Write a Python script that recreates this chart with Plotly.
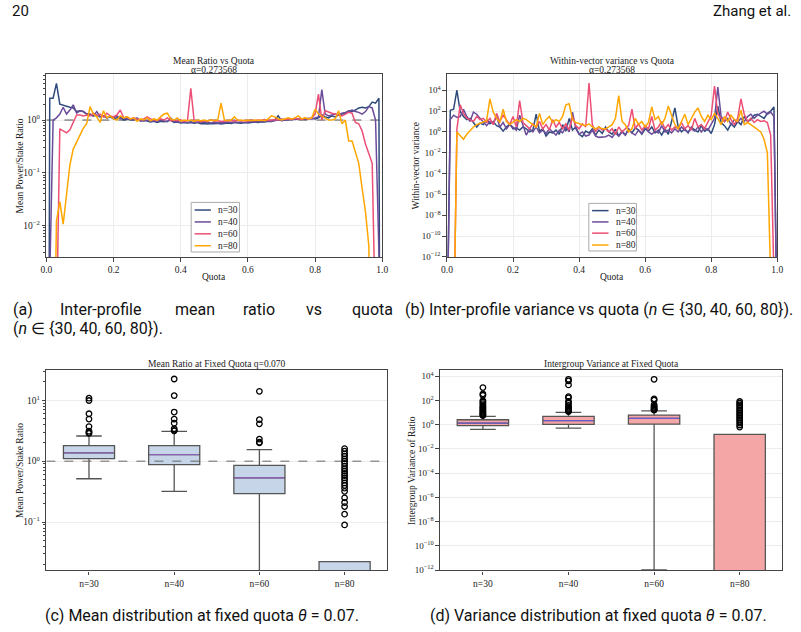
import plotly.graph_objects as go

W, H = 801, 632
SERIF = "Liberation Serif, Times New Roman, serif"
CAP = "Roboto, Liberation Sans, sans-serif"
ZERO = 1e-20  # effectively zero (log axis)

quota = [round(0.01 * i, 2) for i in range(101)]
labels = ["n=30", "n=40", "n=60", "n=80"]
colors = ["#2f4b7c", "#6b4c9a", "#ec4f75", "#ffa600"]

# ---------------- (a) mean ratio vs quota ----------------
mean_n30 = [ZERO, 2.6, 2.6, 5.0, 2.0, 1.9, 1.8, 1.75, 1.7, 1.45,
            1.5, 1.45, 1.3, 1.3, 1.2, 1.25, 1.15, 1.2, 1.1, 1.15,
            1.05, 1.1, 1.15, 1.0, 1.05, 1.0, 1.0, 1.1, 0.95, 1.0,
            0.95, 0.92, 0.95, 0.9, 0.95, 0.93, 0.95, 1.0, 0.9, 0.92,
            0.88, 0.9, 0.88, 0.9, 0.87, 0.9, 0.85, 0.86, 0.84, 0.86,
            0.85, 0.87, 0.84, 0.86, 0.88, 0.86, 0.9, 0.88, 0.87, 0.9,
            0.88, 0.9, 0.92, 0.9, 0.93, 0.92, 0.95, 0.94, 1.0, 1.2,
            0.97, 1.0, 1.02, 1.0, 1.05, 1.03, 1.05, 1.02, 1.05, 1.08,
            1.05, 1.1, 1.25, 1.15, 1.1, 1.2, 1.15, 1.25, 1.3, 1.35,
            1.5, 1.45, 1.55, 1.7, 1.75, 1.7, 1.8, 2.2, 2.1, 2.6, ZERO]
mean_n40 = [ZERO, 0.001, 1.0, 1.1, 1.3, 1.75, 1.3, 1.55, 1.95, 1.35,
            1.5, 1.45, 1.3, 1.25, 1.2, 1.45, 1.15, 1.2, 1.1, 1.2,
            1.1, 1.2, 1.05, 1.1, 1.05, 1.05, 1.0, 1.05, 1.0, 0.95,
            1.0, 0.95, 0.97, 0.95, 1.0, 0.95, 0.93, 1.1, 0.92, 0.95,
            0.9, 0.92, 0.9, 0.93, 0.9, 0.92, 0.9, 0.92, 0.9, 0.88,
            0.9, 0.88, 0.9, 0.89, 0.92, 0.9, 0.92, 0.91, 0.93, 0.9,
            0.92, 0.94, 0.92, 0.95, 0.93, 0.95, 0.97, 0.95, 0.98, 1.0,
            0.98, 1.0, 1.02, 1.05, 1.02, 1.05, 1.03, 1.05, 1.08, 1.05,
            1.1, 1.15, 3.8, 1.3, 1.2, 1.25, 1.3, 1.25, 1.35, 1.4,
            1.5, 1.55, 1.45, 1.4, 1.3, 1.45, 1.8, 1.7, 1.0, 0.003, ZERO]
mean_n60 = [ZERO, ZERO, ZERO, 0.0001, 0.68, 0.62, 0.57, 0.65, 0.9, 1.25,
            1.25, 1.2, 1.25, 1.2, 1.35, 1.2, 1.3, 1.15, 1.35, 1.2,
            1.15, 1.25, 1.55, 1.1, 1.15, 1.05, 1.1, 1.05, 1.0, 1.05,
            1.15, 1.05, 1.0, 0.98, 1.05, 1.0, 1.1, 0.97, 1.0, 0.97,
            1.0, 0.95, 0.98, 4.0, 0.95, 0.98, 0.93, 0.97, 0.95, 1.0,
            0.95, 0.97, 0.94, 0.96, 0.95, 0.98, 0.95, 1.0, 0.96, 0.98,
            0.95, 1.0, 0.97, 1.0, 0.98, 1.02, 0.98, 1.0, 1.02, 1.0,
            1.05, 1.02, 1.05, 1.03, 1.08, 1.05, 1.03, 1.08, 1.05, 1.1,
            1.3, 3.1, 1.0, 1.5, 1.4, 1.35, 1.3, 1.25, 1.2, 1.3,
            1.4, 1.35, 0.9, 0.85, 0.62, 0.35, 0.22, 0.15, 0.0001, ZERO, ZERO]
mean_n80 = [ZERO, ZERO, 1e-6, 0.012, 0.028, 0.0105, 0.045, 0.14, 0.28, 0.38,
            0.52, 0.7, 0.85, 1.8, 1.3, 1.15, 0.9, 1.5, 1.1, 1.2,
            1.05, 1.0, 1.2, 1.1, 1.15, 1.05, 1.1, 0.95, 1.05, 1.0,
            1.1, 0.97, 1.05, 1.0, 1.15, 1.3, 1.35, 1.05, 1.0, 1.1,
            0.95, 1.0, 0.97, 1.0, 0.95, 1.0, 0.97, 1.0, 0.96, 1.0,
            0.98, 1.0, 2.1, 1.0, 0.98, 1.0, 1.15, 0.98, 1.0, 0.97,
            1.0, 0.97, 1.0, 0.98, 1.0, 0.97, 1.05, 1.2, 1.15, 1.05,
            1.0, 1.05, 1.1, 1.05, 1.1, 1.2, 1.05, 1.1, 1.05, 1.1,
            1.6, 1.3, 1.2, 1.1, 1.0, 1.0, 1.05, 1.5, 0.85, 1.0,
            0.4, 0.4, 0.25, 0.15, 0.05, 0.018, 0.004, 1e-6, ZERO, ZERO, ZERO]

# ---------------- (b) within-vector variance vs quota ----------------
var_n30 = [ZERO, 120, 150, 10000, 90, 30, 15, 20, 8, 3,
           7, 5, 15, 6, 10, 4, 3, 1.2, 3, 6,
           2, 2.5, 1.5, 3, 2, 1, 1.5, 50, 1.2, 2,
           0.4, 1, 0.8, 1.5, 0.6, 5, 1.2, 20, 1.5, 3,
           0.6, 0.35, 1.2, 0.8, 2, 0.5, 1.5, 0.7, 3, 1,
           0.6, 1.8, 0.4, 1.2, 0.5, 2, 0.8, 2.5, 1.5, 0.6,
           2, 1.2, 3, 0.8, 1.5, 0.5, 2, 0.6, 10, 200,
           3, 1, 2, 0.8, 3, 1.5, 1, 4, 1.2, 2,
           0.7, 5, 300, 8, 4, 1.5, 6, 3, 10, 5,
           30, 10, 15, 40, 50, 30, 20, 60, 100, 250, ZERO]
var_n40 = [ZERO, 15, 40, 25, 30, 150, 30, 10, 80, 50,
           20, 8, 4, 10, 6, 30, 3, 8, 2, 5,
           3, 1.5, 40, 5, 0.5, 2, 1, 3, 0.8, 1.5,
           0.7, 2, 1, 0.5, 1.5, 0.8, 3, 1, 80, 2,
           0.6, 1, 0.4, 0.5, 1.5, 0.4, 0.3, 0.3, 0.35, 0.5,
           0.3, 0.8, 0.4, 1, 0.5, 2, 0.8, 0.5, 1.5, 0.7,
           3, 1, 0.6, 1.2, 0.8, 4, 1, 1.5, 0.8, 2,
           1, 3, 1.5, 1, 2, 1.2, 3, 1, 2.5, 1.5,
           5, 20, 20000, 30, 10, 20, 5, 15, 8, 20,
           10, 30, 50, 20, 40, 60, 100, 50, 80, 30, ZERO]
var_n60 = [ZERO, ZERO, ZERO, 2, 400, 60, 20, 15, 10, 30,
           15, 20, 8, 20, 5, 60, 10, 40, 15, 5,
           30, 3, 1000, 8, 4, 2, 6, 3, 10, 2,
           5, 1.5, 15, 3, 8, 2, 6, 1.5, 30, 4,
           2, 6, 3, 50000, 5, 1, 3, 1.5, 2, 1,
           2, 0.6, 3, 1, 2, 4, 150, 2, 6, 1.5,
           4, 2, 30, 1.5, 3, 10, 2, 5, 1.5, 3,
           2, 8, 2, 4, 1.5, 20, 3, 5, 2, 10,
           40, 25000, 50, 20, 10, 80, 15, 5, 20, 1500,
           50, 10, 20, 8, 15, 10, 12, 8, 0.5, 1e-14, ZERO]
var_n80 = [ZERO, ZERO, ZERO, 1.0, 0.4, 0.2, 0.6, 1.5, 3, 5,
           7, 10, 12, 1500, 80, 20, 8, 150, 10, 5,
           8, 15, 10, 20, 15, 8, 5, 3, 60, 5,
           15, 30, 8, 15, 10, 30, 400, 500, 15, 8,
           6, 5, 4, 6, 3, 2, 3, 2, 2, 3,
           5, 20, 3000, 10, 5, 1, 2, 20, 5, 10,
           3, 8, 250, 15, 30, 5, 20, 300, 30, 5,
           2, 10, 50, 5, 20, 80, 200, 30, 10, 40,
           15, 60, 20, 5, 30, 10, 40, 15, 10, 120,
           5, 8, 5, 3, 2, 1, 0.2, 0.01, 1e-14, ZERO, ZERO]

# ---------------- (c) mean distribution at fixed quota ----------------
c_q1 = [1.10, 0.88, 0.293, 0.005]
c_med = [1.37, 1.28, 0.535, 0.01]
c_q3 = [1.80, 1.80, 0.85, 0.0225]
c_lo = [0.515, 0.32, 0.001, 0.001]
c_hi = [2.59, 3.08, 1.55, 0.0225]
c_out = [
    [10.8, 9.9, 6.0, 4.9, 3.7, 3.1, 2.95, 2.85],
    [22.3, 11.9, 6.4, 4.9, 4.2, 3.4, 3.2, 3.15],
    [14.0, 4.8, 4.1, 2.3, 2.05, 2.0],
    [1.61, 1.46, 1.32, 1.21, 1.09, 1.0, 0.92, 0.83, 0.75, 0.69, 0.63, 0.58,
     0.53, 0.49, 0.44, 0.40, 0.36, 0.32, 0.25, 0.21, 0.18, 0.135, 0.09],
]

# ---------------- (d) variance distribution at fixed quota ----------------
d_q1 = [0.83, 1.06, 1.13, 1e-15]
d_med = [1.37, 2.13, 3.3, 1e-14]
d_q3 = [2.57, 4.8, 6.2, 0.16]
d_lo = [0.41, 0.53, 1.05e-12, 1e-16]
d_hi = [4.8, 10.3, 14.0, 0.16]
d_out = [
    [5.5, 6.5, 7.5, 9, 11, 13, 16, 20, 25, 30, 40, 55, 75, 95, 270, 350, 1150],
    [12, 13, 16, 19, 23, 28, 39, 60, 82, 165, 210, 1900, 4100, 5600],
    [16, 17, 19, 23, 28, 34, 44, 105, 135, 5600],
    [0.64, 0.94, 1.37, 1.9, 2.6, 3.5, 4.8, 6.6, 9, 12.4, 17, 23, 32, 44, 60, 82],
]

fig = go.Figure()


def px(x):
    return x / W


def py(y):
    return 1 - y / H


def sup(e):
    return "10<sup>" + ("\u2212" if e < 0 else "") + str(abs(e)) + "</sup>"


# line panels
for xa, ya, series in (("x", "y", [mean_n30, mean_n40, mean_n60, mean_n80]),
                       ("x2", "y2", [var_n30, var_n40, var_n60, var_n80])):
    if xa == "x":
        fig.add_trace(go.Scatter(x=[quota[0], quota[-1]], y=[1, 1], mode="lines",
                                 line=dict(color="#555", width=1, dash="dash"),
                                 xaxis=xa, yaxis=ya, showlegend=False, hoverinfo="skip"))
    for name, vals, col in zip(labels, series, colors):
        fig.add_trace(go.Scatter(x=quota, y=vals, mode="lines", name=name,
                                 line=dict(color=col, width=1.5),
                                 xaxis=xa, yaxis=ya, showlegend=False))

# box panels
cats = list(range(len(labels)))
for xa, ya, q1, med, q3, lo, hi, outs, fill, medcol in (
        ("x3", "y3", c_q1, c_med, c_q3, c_lo, c_hi, c_out, "#c7d5e8", "#8a62b4"),
        ("x4", "y4", d_q1, d_med, d_q3, d_lo, d_hi, d_out, "#f4a6a6", "#6a5acd")):
    if xa == "x3":
        fig.add_trace(go.Scatter(x=[-0.5, len(labels) - 0.5], y=[1, 1], mode="lines",
                                 line=dict(color="#666", width=1, dash="dash"),
                                 xaxis=xa, yaxis=ya, showlegend=False, hoverinfo="skip"))
    fig.add_trace(go.Box(x=cats, q1=q1, median=med, q3=q3, lowerfence=lo, upperfence=hi,
                         width=0.6, whiskerwidth=0.5, fillcolor=fill,
                         line=dict(color="#555", width=1.3), boxpoints=False,
                         xaxis=xa, yaxis=ya, showlegend=False))
    mx, my = [], []
    for i, m in enumerate(med):
        mx += [i - 0.29, i + 0.29, None]
        my += [m, m, None]
    fig.add_trace(go.Scatter(x=mx, y=my, mode="lines", line=dict(color=medcol, width=1.3),
                             xaxis=xa, yaxis=ya, showlegend=False, hoverinfo="skip"))
    ox, oy = [], []
    for i, o in enumerate(outs):
        ox += [i] * len(o)
        oy += o
    fig.add_trace(go.Scatter(x=ox, y=oy, mode="markers",
                             marker=dict(symbol="circle-open", size=5.5, color="black",
                                         line=dict(width=1.3)),
                             xaxis=xa, yaxis=ya, showlegend=False, cliponaxis=True))

common = dict(showline=True, linecolor="#444", linewidth=1.3, mirror=True,
              ticks="outside", ticklen=3.5, tickwidth=1, tickcolor="#444",
              tickfont=dict(family=SERIF, size=9.5, color="#222"), zeroline=False,
              gridcolor="#ececec", gridwidth=0.8)

xdom_a = [px(41), px(382)]
xdom_b = [px(447.7), px(783)]
xdom_c = [px(41), px(387)]
xdom_d = [px(440.7), px(788.3)]
ydom_top = [py(259), py(75)]
ydom_bot = [py(575), py(373)]

qt = [0, 0.2, 0.4, 0.6, 0.8, 1.0]
qtt = ["%.1f" % v for v in qt]

minor_a = dict(ticks="outside", ticklen=2, tickcolor="#444", showgrid=False,
               tickvals=[m * 10.0 ** e for e in (-3, -2, -1, 0) for m in range(2, 10)])
minor_c = dict(ticks="outside", ticklen=2, tickcolor="#444", showgrid=False,
               tickvals=[m * 10.0 ** e for e in (-2, -1, 0, 1) for m in range(2, 10)])
small = dict(family=SERIF, size=9, color="#222")

fig.update_layout(
    width=W, height=H, margin=dict(l=0, r=0, t=0, b=0),
    paper_bgcolor="white", plot_bgcolor="white", showlegend=False,
    xaxis=dict(common, domain=xdom_a, anchor="y", range=[0, 1], tickvals=qt, ticktext=qtt),
    yaxis=dict(common, domain=ydom_top, anchor="x", type="log", range=[-2.604, 0.868],
               tickvals=[0.01, 0.1, 1], ticktext=[sup(-2), sup(-1), sup(0)], minor=minor_a),
    xaxis2=dict(common, domain=xdom_b, anchor="y2", range=[0, 1], tickvals=qt, ticktext=qtt),
    yaxis2=dict(common, domain=ydom_top, anchor="x2", type="log", range=[-12, 5.52],
                tickvals=[10.0 ** e for e in range(-12, 5, 2)], tickfont=small,
                ticktext=[sup(e) for e in range(-12, 5, 2)]),
    xaxis3=dict(common, domain=xdom_c, anchor="y3", range=[-0.5, 3.5], tickvals=cats,
                ticktext=labels, showgrid=False),
    yaxis3=dict(common, domain=ydom_bot, anchor="x3", type="log", range=[-1.793, 1.495],
                tickvals=[0.1, 1, 10], ticktext=[sup(-1), sup(0), sup(1)], minor=minor_c),
    xaxis4=dict(common, domain=xdom_d, anchor="y4", range=[-0.5, 3.5], tickvals=cats,
                ticktext=labels, showgrid=False),
    yaxis4=dict(common, domain=ydom_bot, anchor="x4", type="log", range=[-12.03, 4.51],
                tickvals=[10.0 ** e for e in range(-12, 5, 2)], tickfont=small,
                ticktext=[sup(e) for e in range(-12, 5, 2)]),
)

ann = []


def text(x, y, t, size=10, family=SERIF, xanchor="center", angle=0, color="#222"):
    ann.append(dict(x=px(x), y=py(y), xref="paper", yref="paper", text=t, showarrow=False,
                    xanchor=xanchor, yanchor="middle", textangle=angle, borderpad=0,
                    font=dict(family=family, size=size, color=color)))


# titles
text(211.5, 61, "Mean Ratio vs Quota", 9.5)
text(211.5, 70.5, "\u03b1=0.273568", 9.5)
text(615.4, 61, "Within-vector variance vs Quota", 9.5)
text(615.4, 70.5, "\u03b1=0.273568", 9.5)
text(214, 367, "Mean Ratio at Fixed Quota q=0.070", 9.5)
text(614.5, 367, "Intergroup Variance at Fixed Quota", 9.5)
# axis titles
text(211.5, 279, "Quota", 9.5)
text(615.4, 279, "Quota", 9.5)
text(14, 167, "Mean Power/Stake Ratio", 9.5, angle=-90)
text(416, 167, "Within-vector variance", 9.5, angle=-90)
text(14, 474, "Mean Power/Stake Ratio", 9.5, angle=-90)
text(412, 474, "Intergroup Variance of Ratio", 9.5, angle=-90)

# header
text(5, 11, "20", 15, CAP, "left", color="#111")
text(798, 11, "Zhang et al.", 15, CAP, "right", color="#111")

# captions
CAPSIZE = 16
for word, x0 in (("(a)", 6), ("Inter-profile", 54), ("mean", 171), ("ratio", 240),
                 ("vs", 304), ("quota", 350)):
    text(x0, 312, word, CAPSIZE, CAP, "left", color="#111")
text(6, 331, "(<i>n</i> \u2208 {30, 40, 60, 80}).", CAPSIZE, CAP, "left", color="#111")
text(602, 312, "(b) Inter-profile variance vs quota (<i>n</i> \u2208 {30, 40, 60, 80}).",
     CAPSIZE, CAP, "center", color="#111")
text(199, 620, "(c) Mean distribution at fixed quota <i>\u03b8</i> = 0.07.", CAPSIZE, CAP, "center", color="#111")
text(601.5, 620, "(d) Variance distribution at fixed quota <i>\u03b8</i> = 0.07.", CAPSIZE, CAP, "center", color="#111")

# legends
shapes = []
for (bx0, bx1, by0, by1, lx0, lx1, tx, rows) in (
        (188, 237, 204, 254, 191.5, 208, 214, [211.7, 223.7, 235.7, 247.7]),
        (591.7, 640, 205, 253, 595, 611.7, 618.3, [212.3, 223.7, 235, 247])):
    shapes.append(dict(type="rect", xref="paper", yref="paper", x0=px(bx0), x1=px(bx1),
                       y0=py(by1), y1=py(by0), line=dict(color="#aaa", width=1),
                       fillcolor="rgba(255,255,255,0.85)", layer="above"))
    for lab, col, ry in zip(labels, colors, rows):
        shapes.append(dict(type="line", xref="paper", yref="paper", x0=px(lx0), x1=px(lx1),
                           y0=py(ry), y1=py(ry), line=dict(color=col, width=1.5), layer="above"))
        text(tx, ry, lab, 9.5, SERIF, "left")

fig.update_layout(annotations=ann, shapes=shapes)
fig.write_html("out.html")
